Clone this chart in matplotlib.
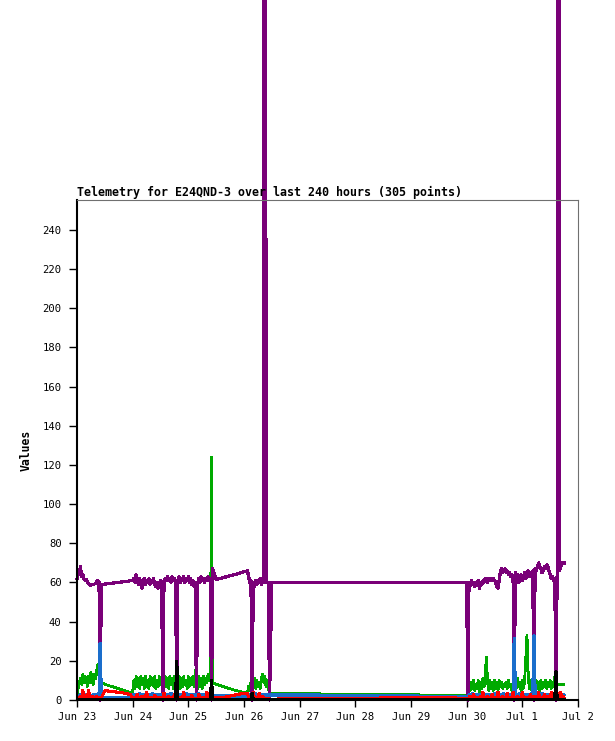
import numpy as np
import matplotlib
matplotlib.use("Agg")
import matplotlib.pyplot as plt

# ---------------- data (hours since Jun 23 00:00) ----------------
X_TICK_HOURS = [0, 24, 48, 72, 96, 120, 144, 168, 192, 216]
X_TICK_LABELS = ["Jun 23", "Jun 24", "Jun 25", "Jun 26", "Jun 27", "Jun 28",
                 "Jun 29", "Jun 30", "Jul 1", "Jul 2"]
Y_TICKS = [0, 20, 40, 60, 80, 100, 120, 140, 160, 180, 200, 220, 240]

# sample times of the regular segments (start, stop, step) and irregular points
SEG1 = (0.0, 9.5, 0.5)
GLITCH1_T = [9.95]
GAP1_T = [10.5, 12, 16, 20, 23]
SEG2 = (24.0, 58.0, 0.5)
GAP2_T = [58.5, 60, 64, 68, 72]
SEG3 = (73.5, 83.0, 0.5)
GAP3_T = [84, 92, 104.5, 105, 125, 147, 147.5, 157, 168]
SEG5 = (168.5, 210.0, 0.5)

# purple series
purple_seg1 = [62, 64, 65, 68, 63, 64, 62, 61, 61.5, 60,
               59.5, 59, 58.5, 59, 58.8, 59.2, 59.5, 60.5, 61, 60]
purple_glitch1 = [0]
purple_gap1 = [59, 59.2, 59.8, 60.4, 60.9]
purple_seg2 = [61, 62, 60, 64, 61, 59, 62, 60, 57, 60,
               62, 59, 61, 60, 62, 59, 61, 60, 62, 59,
               58, 60, 57, 59, 61, 60, 0, 60, 62, 61,
               63, 61, 62, 60, 63, 61, 62, 61, 0, 61,
               63, 60, 62, 61, 63, 60, 62, 61, 63, 60,
               62, 59, 61, 58, 60, 0, 59, 62, 60, 63,
               61, 62, 60, 62, 61, 63, 61, 62, 0]
purple_gap2 = [67, 61.5, 62.8, 64, 65.5]
purple_seg3 = [66, 63, 60, 61, 0, 60, 58, 61, 59, 61,
               60, 62, 59, 61, 60, 1500, 60, 60, 60, 0]
purple_gap3 = [60, 60, 60, 60, 60, 60, 60, 60, 60]
purple_seg5 = [0, 60, 58, 61, 59, 60, 58, 60, 59, 61,
               57, 60, 59, 61, 60, 62, 61, 60, 62, 61,
               62, 61, 62, 61, 60, 58, 57, 61, 65, 67,
               65, 66, 67, 65, 66, 64, 65, 63, 64, 63,
               0, 65, 62, 64, 60, 62, 64, 61, 63, 65,
               62, 64, 66, 63, 65, 64, 66, 0, 67, 66,
               68, 70, 68, 67, 65, 66, 68, 67, 69, 68,
               66, 64, 62, 63, 61, 62, 0, 64, 1500, 66,
               68, 70, 70, 70]

# green series
green_seg1 = [2.5, 6, 9, 11, 8, 13, 9, 12, 10, 7,
              12, 9, 14, 10, 8, 13, 11, 15, 18, 12]
green_glitch1 = [9]
green_gap1 = [9, 8, 6.5, 5, 3.8]
green_seg2 = [4, 10, 6, 12, 7, 11, 6, 12, 8, 11,
              6, 12, 7, 10, 6, 12, 8, 11, 7, 12,
              6, 10, 7, 12, 8, 10, 8, 6, 12, 7,
              11, 6, 12, 8, 11, 6, 12, 9, 8, 7,
              12, 6, 11, 7, 12, 8, 10, 6, 12, 7,
              11, 8, 12, 7, 15, 8, 6, 12, 7, 11,
              6, 12, 8, 11, 9, 13, 10, 15, 124]
green_gap2 = [9, 8, 6.5, 5, 3.8]
green_seg3 = [3.5, 7, 5, 9, 28, 8, 11, 6, 10, 7,
              9, 6, 11, 13, 9, 12, 7, 10, 6, 3.5]
green_gap3 = [3.5, 3.5, 3.5, 3.0, 3.0, 3.0, 2.6, 2.6, 2.6]
green_seg5 = [3, 8, 5, 9, 6, 10, 5, 8, 6, 10,
              4, 9, 6, 11, 7, 12, 22, 9, 5, 10,
              6, 9, 5, 10, 6, 9, 5, 10, 7, 9,
              6, 8, 7, 9, 6, 10, 7, 8, 5, 9,
              4, 10, 6, 11, 7, 9, 4, 10, 6, 10,
              22, 33, 14, 6, 10, 5, 9, 4, 8, 10,
              6, 9, 5, 10, 6, 9, 7, 10, 6, 9,
              7, 10, 6, 9, 7, 10, 32, 8, 8, 8,
              8, 8, 8, 8]

# red series
red_seg1 = [1, 1.5, 1, 2, 1, 5, 1.5, 1, 2.5, 1,
            5, 1.5, 1, 2, 1, 1.5, 1, 2, 1, 1.5]
red_glitch1 = [1]
red_gap1 = [1, 4.8, 4.2, 3.6, 2.8]
red_seg2 = [1, 0.5, 1.5, 1, 3, 1, 0.5, 1, 2, 1,
            0.5, 1, 4, 1, 0.5, 1.5, 1, 0.5, 1, 2.5,
            1, 0.5, 1, 1.5, 0.5, 1, 1, 3.5, 1, 0.5,
            1, 2, 0.5, 1, 1.5, 0.5, 3, 1, 1, 0.5,
            1, 1.5, 0.5, 1, 4, 1, 0.5, 1.5, 1, 0.5,
            1, 2.5, 1, 0.5, 1, 1, 0.5, 3, 1, 0.5,
            1, 1.5, 0.5, 1, 4, 1, 0.5, 1, 1]
red_gap2 = [1, 1.2, 1.5, 2.5, 3.5]
red_seg3 = [3.5, 1, 0.5, 2, 1, 4, 1, 0.5, 1.5, 1,
            3.5, 1, 0.5, 2, 1, 0.5, 1, 0.5, 0.5, 0.5]
red_gap3 = [0.3, 0.9, 0.9, 0.9, 0.9, 1.3, 1.3, 1.3, 0.8]
red_seg5 = [0.5, 1, 2, 0.5, 1, 3, 1, 0.5, 1.5, 1,
            0.5, 2, 1, 4, 1, 0.5, 1, 2, 1, 0.5,
            1, 3, 0.5, 1, 1.5, 1, 4, 1, 0.5, 1,
            2, 1, 0.5, 1, 3.5, 1, 0.5, 1.5, 1, 4,
            1, 0.5, 1, 2, 1, 0.5, 1, 4, 1, 0.5,
            1, 1.5, 0.5, 1, 3, 1, 0.5, 1, 2, 1,
            0.5, 4, 1, 0.5, 1.5, 1, 3, 0.5, 1, 2,
            1, 0.5, 4, 1, 0.5, 1, 1, 3.5, 2, 1,
            4, 1, 2, 1]

# blue series
blue_seg1 = [1.5, 2.5, 2, 3, 2, 2.5, 3, 2, 2.5, 1.5,
             3, 2, 2.5, 2, 3, 2, 2.5, 2, 3, 2]
blue_glitch1 = [29]
blue_gap1 = [1, 1, 1, 1, 1]
blue_seg2 = [2, 3, 2.5, 1.5, 3, 2, 3.5, 2, 2.5, 3,
             2, 3, 1.5, 2.5, 3, 2, 2.5, 3.5, 2, 3,
             2.5, 2, 3, 1.5, 2.5, 3, 2, 2.5, 3, 2,
             3, 2.5, 2, 3.5, 2, 2.5, 3, 2, 2.5, 3,
             2, 3, 2.5, 1.5, 3, 2, 3.5, 2.5, 2, 3,
             2.5, 2, 3, 2, 2.5, 3, 2, 3.5, 2, 2.5,
             3, 2, 2.5, 3, 1.5, 2.5, 3, 2, 2.5]
blue_gap2 = [2, 2, 2, 2, 2]
blue_seg3 = [2, 2.5, 3, 2, 2.5, 3, 2, 3.5, 2.5, 2,
             3, 2.5, 2, 3, 2.5, 2, 3, 2.5, 2.6, 2.6]
blue_gap3 = [2.6, 2.6, 2.6, 2.0, 2.0, 2.0, 1.7, 1.7, 1.7]
blue_seg5 = [1.7, 2.5, 3, 2, 3.5, 2, 2.5, 3, 1.5, 2.5,
             3, 2, 2.5, 3.5, 2, 3, 2.5, 2, 3, 2.5,
             2, 3, 2.5, 3.5, 2, 2.5, 3, 2, 2.5, 3,
             2, 3.5, 2.5, 2, 3, 2.5, 2, 3, 2.5, 2,
             31.5, 2.5, 3, 2, 2.5, 3.5, 2, 3, 2.5, 2,
             3, 2.5, 2, 3, 2.5, 3.5, 2, 32.7, 2.5, 3,
             2, 2.5, 3, 2, 3.5, 2.5, 2, 3, 2.5, 2,
             3, 2.5, 2, 3.5, 2, 2.5, 2, 3, 2.5, 2,
             3, 2.5, 2, 2.5]

# black series (own sample times)
black_t = [0, 42.5, 43, 43.5, 57.5, 58, 58.5, 75, 75.5, 76, 206, 206.5, 207, 210]
black_v = [0, 0, 19.5, 0, 0, 10, 0, 0, 3.5, 0, 0, 14.5, 0, 0]


def seg_times(spec):
    a, b, s = spec
    return list(np.arange(a, b + 1e-9, s))


T = np.array(seg_times(SEG1) + GLITCH1_T + GAP1_T + seg_times(SEG2) + GAP2_T
             + seg_times(SEG3) + GAP3_T + seg_times(SEG5))


def build(s1, g1, gp1, s2, gp2, s3, gp3, s5):
    return np.array(s1 + g1 + gp1 + s2 + gp2 + s3 + gp3 + s5, dtype=float)


PURPLE = build(purple_seg1, purple_glitch1, purple_gap1, purple_seg2, purple_gap2,
               purple_seg3, purple_gap3, purple_seg5)
GREEN = build(green_seg1, green_glitch1, green_gap1, green_seg2, green_gap2,
              green_seg3, green_gap3, green_seg5)
RED = build(red_seg1, red_glitch1, red_gap1, red_seg2, red_gap2,
            red_seg3, red_gap3, red_seg5)
BLUE = build(blue_seg1, blue_glitch1, blue_gap1, blue_seg2, blue_gap2,
             blue_seg3, blue_gap3, blue_seg5)

# ---------------- plot ----------------
MONO = ["DejaVu Sans Mono"]
fig = plt.figure(figsize=(6.15, 7.41), dpi=100)
ax = fig.add_axes([77 / 615, 41 / 741, 501 / 615, 500 / 741])

ax.plot(T, GREEN, color="#00aa00", lw=1.3, zorder=2, antialiased=False)
ax.plot(T, PURPLE, color="#7a0078", lw=1.6, zorder=2.1, clip_on=False,
        antialiased=False)
ax.plot(T, BLUE, color="#1a6ecc", lw=1.6, zorder=2.2, antialiased=False)
ax.plot(T, RED, color="#ff0000", lw=1.5, zorder=2.3, antialiased=False)
ax.plot(black_t, black_v, color="#000000", lw=1.6, zorder=2.4, antialiased=False)

ax.set_xlim(0, 216)
ax.set_ylim(0, 255.3)
ax.set_xticks(X_TICK_HOURS)
ax.set_xticklabels(X_TICK_LABELS, family=MONO, fontsize=7.6)
ax.set_yticks(Y_TICKS)
ax.set_yticklabels([str(v) for v in Y_TICKS], family=MONO, fontsize=7.6)
ax.tick_params(axis="y", direction="out", length=6, width=1.0, pad=5, colors="black")
ax.tick_params(axis="x", direction="out", length=5, width=1.0, pad=4, colors="black")

for side in ("left", "bottom"):
    ax.spines[side].set_color("black")
    ax.spines[side].set_linewidth(1.5)
for side in ("top", "right"):
    ax.spines[side].set_color("#707070")
    ax.spines[side].set_linewidth(0.8)

ax.set_title("Telemetry for E24QND-3 over last 240 hours (305 points)",
             loc="left", family=MONO, fontsize=8.4, fontweight="bold", pad=3)
ax.set_ylabel("Values", family=MONO, fontsize=8.3, fontweight="bold", labelpad=7)

fig.savefig("out.png", dpi=100)
